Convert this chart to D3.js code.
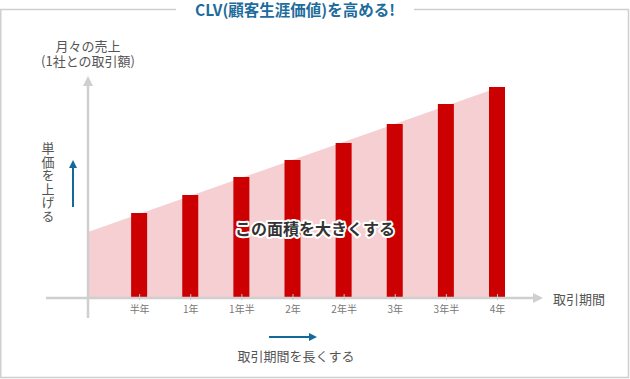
<!DOCTYPE html>
<html>
<head>
<meta charset="utf-8">
<script src="https://cdn.jsdelivr.net/npm/d3@7"></script>
<style>
  body { margin: 0; background: #fff; }
  text { font-family: "Noto Sans CJK JP", "Noto Sans", sans-serif; }
</style>
</head>
<body>
<script>
// Set up size
var width = 630;
var height = 379;

// Chart data (periods and monthly sales per client)
var periods = ["半年", "1年", "1年半", "2年", "2年半", "3年", "3年半", "4年"];
var sales = [85, 103, 121, 138, 155, 174, 194, 211];
// Trend band behind the bars: [period index, value]
var areaPoints = [[0, 66], [8, 210]];

var svg = d3.select("body").append("svg")
  .attr("width", width)
  .attr("height", height);

// Scales: index 0 is the origin, bars sit at 1..8
var x = d3.scaleLinear().domain([0, 8]).range([88, 497]);
var y = d3.scaleLinear().domain([0, 250]).range([298, 48]);

// Outer frame with title gap
var frame = svg.append("g").attr("stroke", "#cfcfcf").attr("stroke-width", 1.5).attr("fill", "none");
frame.append("path").attr("d", "M176,9.5 H0.75 V377.5 H628.5 V9.5 H414");

svg.append("text")
  .attr("x", 295).attr("y", 16)
  .attr("text-anchor", "middle")
  .attr("fill", "#1d6c9c")
  .attr("font-size", 15.5)
  .attr("font-weight", "bold")
  .text("CLV(顧客生涯価値)を高める!");

// Arrow markers
var defs = svg.append("defs");
function marker(id, color, w, h) {
  defs.append("marker")
    .attr("id", id)
    .attr("viewBox", "0 0 10 10")
    .attr("refX", 0).attr("refY", 5)
    .attr("markerUnits", "userSpaceOnUse")
    .attr("markerWidth", w).attr("markerHeight", h)
    .attr("orient", "auto")
    .append("path").attr("d", "M0,0 L10,5 L0,10 Z").attr("fill", color);
}
marker("grayArrow", "#cfcfcf", 10, 10);
marker("blueArrow", "#136a98", 8, 8);

// Area
var area = d3.area()
  .x(function(d) { return x(d[0]); })
  .y0(y(0))
  .y1(function(d) { return y(d[1]); });
svg.append("path")
  .datum(areaPoints)
  .attr("d", area)
  .attr("fill", "#f5cfd1");

// Bars
var barW = 16;
svg.append("g").selectAll("rect")
  .data(sales)
  .enter().append("rect")
  .attr("x", function(d, i) { return x(i + 1) - barW / 2; })
  .attr("y", function(d) { return y(d); })
  .attr("width", barW)
  .attr("height", function(d) { return y(0) - y(d); })
  .attr("fill", "#cc0000");

// Axes
svg.append("line")
  .attr("x1", 88).attr("y1", 318).attr("x2", 88).attr("y2", 86)
  .attr("stroke", "#cfcfcf").attr("stroke-width", 2.5)
  .attr("marker-end", "url(#grayArrow)");
svg.append("line")
  .attr("x1", 46).attr("y1", y(0)).attr("x2", 533).attr("y2", y(0))
  .attr("stroke", "#cfcfcf").attr("stroke-width", 2.5)
  .attr("marker-end", "url(#grayArrow)");

// Ticks and labels
var xAxis = d3.axisBottom(x)
  .tickValues(d3.range(1, 9))
  .tickSize(6)
  .tickPadding(6)
  .tickFormat(function(d) { return periods[d - 1]; });
var gx = svg.append("g")
  .attr("transform", "translate(0," + (y(0) - 4) + ")")
  .call(xAxis);
gx.select(".domain").remove();
gx.selectAll(".tick line").attr("stroke", "#c8c8c8");
gx.selectAll(".tick text")
  .attr("fill", "#777")
  .attr("font-size", 10)
  .style("font-family", "\"Noto Sans CJK JP\", sans-serif");

svg.append("text")
  .attr("x", 553).attr("y", 304)
  .attr("fill", "#555").attr("font-size", 13)
  .text("取引期間");

// Y label
var yl = svg.append("text")
  .attr("text-anchor", "middle")
  .attr("fill", "#555").attr("font-size", 13);
yl.append("tspan").attr("x", 88).attr("y", 51).text("月々の売上");
yl.append("tspan").attr("x", 88).attr("y", 66).text("(1社との取引額)");

// Vertical note with arrow
svg.append("text")
  .attr("x", 48).attr("y", 142)
  .attr("fill", "#555").attr("font-size", 13)
  .style("writing-mode", "vertical-rl")
  .style("letter-spacing", "0.5px")
  .text("単価を上げる");
svg.append("line")
  .attr("x1", 73).attr("y1", 207).attr("x2", 73).attr("y2", 168)
  .attr("stroke", "#136a98").attr("stroke-width", 2)
  .attr("marker-end", "url(#blueArrow)");

// Horizontal note with arrow
svg.append("line")
  .attr("x1", 269).attr("y1", 337).attr("x2", 309).attr("y2", 337)
  .attr("stroke", "#136a98").attr("stroke-width", 2)
  .attr("marker-end", "url(#blueArrow)");
svg.append("text")
  .attr("x", 296).attr("y", 361)
  .attr("text-anchor", "middle")
  .attr("fill", "#555").attr("font-size", 13)
  .text("取引期間を長くする");

// Center label with white halo
svg.append("text")
  .attr("x", 315).attr("y", 235)
  .attr("text-anchor", "middle")
  .attr("font-size", 16).attr("font-weight", "bold")
  .attr("fill", "#333")
  .attr("stroke", "#fff").attr("stroke-width", 4)
  .attr("stroke-linejoin", "round")
  .attr("paint-order", "stroke")
  .text("この面積を大きくする");
</script>
</body>
</html>
